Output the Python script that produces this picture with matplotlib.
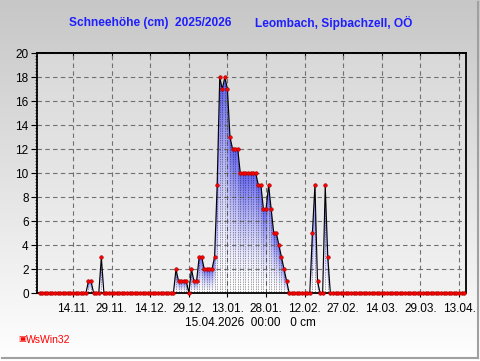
import numpy as np
import pandas as pd
import matplotlib
matplotlib.use("Agg")
from matplotlib import pyplot as plt

plt.rcParams['font.family'] = ['Liberation Sans', 'DejaVu Sans']

# snow depth in cm, one value per day (1 Nov 2025 .. 15 Apr 2026)
nov = [0]*19 + [1, 1, 0, 0, 0, 3] + [0]*5
dec = [0]*23 + [2, 1, 1, 1, 1, 0, 2, 1]
jan = [1, 3, 3, 2, 2, 2, 2, 3, 9, 18, 17, 18, 17, 13, 12, 12, 12,
       10, 10, 10, 10, 10, 10, 10, 9, 9, 7, 7, 9, 7, 5]
feb = [5, 4, 3, 2, 1] + [0]*9 + [5, 9, 1, 0, 0, 9, 3] + [0]*7
mar = [0]*31
apr = [0]*15
snow = nov + dec + jan + feb + mar + apr

start = pd.Timestamp("2025-10-31")
dates = pd.date_range("2025-11-01", periods=len(snow), freq="D")
days = np.array([(d - start).days for d in dates], dtype=float)
vals = np.array(snow, dtype=float)

tick_labels = ["14.11.", "29.11.", "14.12.", "29.12.", "13.01.", "28.01.",
               "12.02.", "27.02.", "14.03.", "29.03.", "13.04."]
tick_days = [(pd.Timestamp(y + "-" + t[3:5] + "-" + t[0:2]) - start).days
             for t, y in zip(tick_labels, ["2025"]*4 + ["2026"]*7)]

title_left = "Schneehöhe (cm)  2025/2026"
title_right = "Leombach, Sipbachzell, OÖ"
info = "15.04.2026  00:00   0 cm"

W, H = 481, 361
fig = plt.figure(figsize=(W/100, H/100), dpi=100)

# figure background gradient
bg = fig.add_axes([0, 0, 1, 1], zorder=-10)
g = np.linspace(0, 1, 256)[:, None]
c_top, c_bot = np.array([0.78, 0.78, 0.78]), np.array([1.0, 1.0, 1.0])
bg.imshow(c_top*(1-g)[..., None] + c_bot*g[..., None], aspect='auto', extent=[0, 1, 0, 1])
bg.set_xlim(0, 1)
bg.set_ylim(0, 1)
bg.axis('off')
bg.plot([478/W, 478/W], [1 - 2/H, 1 - 358/H], color='#a0a0a0', lw=1.5)
bg.plot([2/W, 478/W], [1 - 358/H, 1 - 358/H], color='#a0a0a0', lw=1.5)

xmax = 166.7
ax = fig.add_axes([37/W, 1 - 293/H, (466-37)/W, (293-53)/H])
ax.set_xlim(0, xmax)
ax.set_ylim(0, 20)

# plot area gradient
p_top, p_bot = np.array([0.85, 0.85, 0.85]), np.array([0.95, 0.95, 0.95])
ax.imshow(p_top*(1-g)[..., None] + p_bot*g[..., None], aspect='auto',
          extent=[0, xmax, 0, 20], zorder=0)

# fill with per-column gradient (white at bottom, blue at top)
xs = np.linspace(0, xmax, 1200)
hs = np.interp(xs, days, vals)
ys = np.linspace(0, 20, 600)
with np.errstate(divide='ignore', invalid='ignore'):
    f = np.where(hs[None, :] > 0, ys[:, None] / hs[None, :], 2)
blue = np.array([0.38, 0.38, 0.94])
ff = np.clip(f, 0, 1)[..., None] ** 1.6
rgba = np.ones((len(ys), len(xs), 4))
rgba[..., :3] = (1 - ff) * 1.0 + ff * blue
rgba[..., 3] = (f <= 1).astype(float)
ax.imshow(rgba, aspect='auto', extent=[0, xmax, 0, 20], origin='lower',
          zorder=1, interpolation='nearest')

# dotted daily columns
nz = vals > 0
ax.vlines(days[nz], 0, vals[nz], colors='black', linestyles=(0, (1, 1.5)),
          linewidth=0.5, alpha=0.75, zorder=2)

ax.grid(True, color='#707070', linestyle=(0, (4, 3)), linewidth=0.8, zorder=1.5)

ax.plot(days, vals, color='black', lw=0.8, zorder=3)
ax.plot(days, vals, 'o', ms=2.6, mfc='red', mec='#a00000', mew=0.4,
        zorder=4, clip_on=False)

ax.set_yticks(range(0, 21, 2))
ax.set_yticks(np.arange(0, 20.01, 0.25), minor=True)
ax.set_xticks(tick_days)
ax.set_xticklabels(tick_labels)
ax.tick_params(axis='y', which='major', length=4, width=0.8, labelsize=8.5, pad=2)
ax.tick_params(axis='y', which='minor', length=1.5, width=0.5)
ax.tick_params(axis='x', which='major', length=3, width=0.8, labelsize=8.5, pad=4)
top = ax.secondary_xaxis('top')
top.set_xticks(tick_days)
top.tick_params(direction='in', length=3, width=0.8, labeltop=False)
top.spines['top'].set_linewidth(1.3)
for s in ax.spines.values():
    s.set_linewidth(1.3)
    s.set_color('black')
    s.set_zorder(3.5)

fig.text(69/W, 1 - 23/H, title_left, color='#1e1eff', fontsize=8.6,
         fontweight='bold', ha='left', va='center')
fig.text(255/W, 1 - 23/H, title_right, color='#1e1eff', fontsize=8.6,
         fontweight='bold', ha='left', va='center')
fig.text(250/W, 1 - 323/H, info, fontsize=8.5, ha='center', va='center')
fig.text(18/W, 1 - 340/H, "▣", color='red', fontsize=6, ha='left', va='center')
fig.text(26/W, 1 - 340/H, "WsWin32", color='red', fontsize=7.5, ha='left', va='center')

plt.savefig("out.png", dpi=100)
